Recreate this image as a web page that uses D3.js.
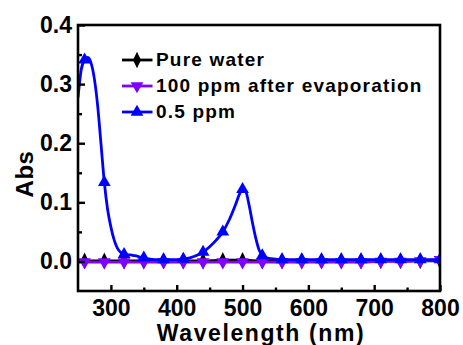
<!DOCTYPE html>
<html>
<head>
<meta charset="utf-8">
<script src="https://cdn.jsdelivr.net/npm/d3@7"></script>
<style>
  html, body { margin: 0; padding: 0; background: #ffffff; }
  svg { display: block; font-family: "Liberation Sans", Arial, sans-serif; font-weight: bold; }
</style>
</head>
<body>
<svg id="chart" width="463" height="345"></svg>
<script>
// Absorbance spectra (Abs vs wavelength in nm)

// Wavelengths where the symbols are plotted
const markerWavelengths = [260, 290, 320, 350, 380, 410, 440, 470, 500, 530, 560, 590, 620, 650, 680, 710, 740, 770, 800];

// Flat baselines: sampled at the left edge plus every symbol position
const baseWavelengths = [250, 260, 290, 320, 350, 380, 410, 440, 470, 500, 530, 560, 590, 620, 650, 680, 710, 740, 770, 800];
const pureWater = [0.001, 0.001, 0.001, 0.001, 0.001, 0.001, 0.001, 0.001, 0.002, 0.002, 0.001, 0.001, 0.001, 0.001, 0.001, 0.001, 0.001, 0.001, 0.001, 0.001];
const after100ppm = [-0.001, -0.001, -0.001, -0.001, -0.001, -0.001, -0.001, -0.001, -0.001, -0.001, -0.001, -0.001, -0.001, -0.001, -0.001, -0.001, 0.000, 0.000, 0.001, 0.003];

// 0.5 ppm spectrum
const sampleWavelengths = [250, 255, 260, 265, 270, 275, 280, 285, 290, 295, 300, 305, 310, 315, 320, 325, 330, 335, 340, 345, 350, 360, 370, 380, 390, 400, 410, 420, 430, 440, 450, 460, 470, 480, 490, 495, 500, 505, 510, 515, 520, 525, 530, 540, 550, 560, 590, 620, 650, 680, 710, 740, 770, 800];
const ppm05 = [0.277, 0.325, 0.341, 0.345, 0.335, 0.308, 0.262, 0.198, 0.134, 0.088, 0.058, 0.036, 0.022, 0.015, 0.012, 0.011, 0.011, 0.010, 0.009, 0.007, 0.006, 0.004, 0.003, 0.003, 0.003, 0.003, 0.004, 0.006, 0.010, 0.016, 0.025, 0.036, 0.050, 0.071, 0.098, 0.113, 0.122, 0.118, 0.095, 0.066, 0.040, 0.020, 0.010, 0.005, 0.004, 0.003, 0.003, 0.003, 0.003, 0.003, 0.003, 0.003, 0.003, 0.003];

const xMajor = [300, 400, 500, 600, 700, 800];
const xMinor = [350, 450, 550, 650, 750];
const yMajor = [0.0, 0.1, 0.2, 0.3, 0.4];
const yMinor = [0.05, 0.15, 0.25, 0.35];

const seriesNames = ["Pure water", "100 ppm after evaporation", "0.5 ppm"];
const seriesColors = ["#000000", "#8000ff", "#0000ff"];

const svg = d3.select("#chart");
const plot = { left: 78, right: 440, top: 25, bottom: 291 };

const x = d3.scaleLinear().domain([250, 800]).range([plot.left, plot.right]);
const y = d3.scaleLinear().domain([-0.05, 0.4]).range([plot.bottom, plot.top]);

svg.append("rect").attr("width", 463).attr("height", 345).attr("fill", "#ffffff");

svg.append("defs").append("clipPath").attr("id", "plotClip")
  .append("rect")
  .attr("x", plot.left).attr("y", plot.top)
  .attr("width", plot.right - plot.left).attr("height", plot.bottom - plot.top);

// Build point lists
const zip = (xs, ys) => xs.map((w, i) => ({ w, v: ys[i] }));
const onMarker = d => markerWavelengths.includes(d.w);

const series = [
  { points: zip(baseWavelengths, pureWater), color: seriesColors[0], symbol: d3.symbolDiamond, size: 55, rot: 0, sy: 1.2 },
  { points: zip(baseWavelengths, after100ppm), color: seriesColors[1], symbol: d3.symbolTriangle, size: 70, rot: 180, sy: 1 },
  { points: zip(sampleWavelengths, ppm05), color: seriesColors[2], symbol: d3.symbolTriangle, size: 70, rot: 0, sy: 1 }
];

const line = d3.line()
  .x(d => x(d.w))
  .y(d => y(d.v))
  .curve(d3.curveMonotoneX);

const dataLayer = svg.append("g").attr("clip-path", "url(#plotClip)");

series.forEach(s => {
  dataLayer.append("path")
    .datum(s.points)
    .attr("fill", "none")
    .attr("stroke", s.color)
    .attr("stroke-width", 2.8)
    .attr("stroke-linejoin", "round")
    .attr("d", line);
  dataLayer.selectAll(null)
    .data(s.points.filter(onMarker))
    .join("path")
    .attr("d", d3.symbol().type(s.symbol).size(s.size))
    .attr("transform", d => `translate(${x(d.w)},${y(d.v)}) rotate(${s.rot}) scale(1,${s.sy})`)
    .attr("fill", s.color);
});

// Axes with inward ticks
const axisFont = g => g.selectAll("text")
  .attr("font-size", 23)
  .attr("font-weight", "bold")
  .attr("fill", "#000")
  .attr("font-family", "'Liberation Sans', Arial, sans-serif");

const xAxis = svg.append("g")
  .attr("transform", `translate(0,${plot.bottom})`)
  .call(d3.axisBottom(x).tickValues(xMajor).tickFormat(d3.format("d")).tickSizeInner(-6).tickSizeOuter(0).tickPadding(9));
xAxis.select(".domain").remove();
xAxis.selectAll("line").attr("stroke-width", 2.4);
axisFont(xAxis);

const xAxisMinor = svg.append("g")
  .attr("transform", `translate(0,${plot.bottom})`)
  .call(d3.axisBottom(x).tickValues(xMinor).tickFormat("").tickSizeInner(-3.5).tickSizeOuter(0));
xAxisMinor.select(".domain").remove();
xAxisMinor.selectAll("line").attr("stroke-width", 2.4);

const yAxis = svg.append("g")
  .attr("transform", `translate(${plot.left},0)`)
  .call(d3.axisLeft(y).tickValues(yMajor).tickFormat(d3.format(".1f")).tickSizeInner(-7).tickSizeOuter(0).tickPadding(6));
yAxis.select(".domain").remove();
yAxis.selectAll("line").attr("stroke-width", 2.4);
axisFont(yAxis);

const yAxisMinor = svg.append("g")
  .attr("transform", `translate(${plot.left},0)`)
  .call(d3.axisLeft(y).tickValues(yMinor).tickFormat("").tickSizeInner(-4).tickSizeOuter(0));
yAxisMinor.select(".domain").remove();
yAxisMinor.selectAll("line").attr("stroke-width", 2.4);

// Plot frame
svg.append("rect")
  .attr("x", plot.left).attr("y", plot.top)
  .attr("width", plot.right - plot.left).attr("height", plot.bottom - plot.top)
  .attr("fill", "none").attr("stroke", "#000").attr("stroke-width", 2.6);

// Axis titles
svg.append("text")
  .attr("x", (plot.left + plot.right) / 2 + 2)
  .attr("y", 341)
  .attr("text-anchor", "middle")
  .attr("font-size", 23)
  .attr("letter-spacing", 1.6)
  .attr("fill", "#000")
  .text("Wavelength (nm)");

svg.append("text")
  .attr("transform", `translate(33,${(plot.top + plot.bottom) / 2 + 16}) rotate(-90)`)
  .attr("text-anchor", "middle")
  .attr("font-size", 24)
  .attr("letter-spacing", 0.5)
  .attr("fill", "#000")
  .text("Abs");

// Legend
const legend = svg.append("g");
const legendRows = [66, 92, 118];
series.forEach((s, i) => {
  const row = legend.append("g").attr("transform", `translate(0,${legendRows[i]})`);
  row.append("line")
    .attr("x1", 122).attr("x2", 152.5)
    .attr("y1", -6).attr("y2", -6)
    .attr("stroke", s.color).attr("stroke-width", 2.8);
  row.append("path")
    .attr("d", d3.symbol().type(s.symbol).size(s.size)())
    .attr("transform", `translate(137,-6) rotate(${s.rot}) scale(1,${s.sy})`)
    .attr("fill", s.color);
  row.append("text")
    .attr("x", 156)
    .attr("y", 0)
    .attr("font-size", 19)
    .attr("letter-spacing", 1.2)
    .attr("fill", "#000")
    .text(seriesNames[i]);
});
</script>
</body>
</html>
